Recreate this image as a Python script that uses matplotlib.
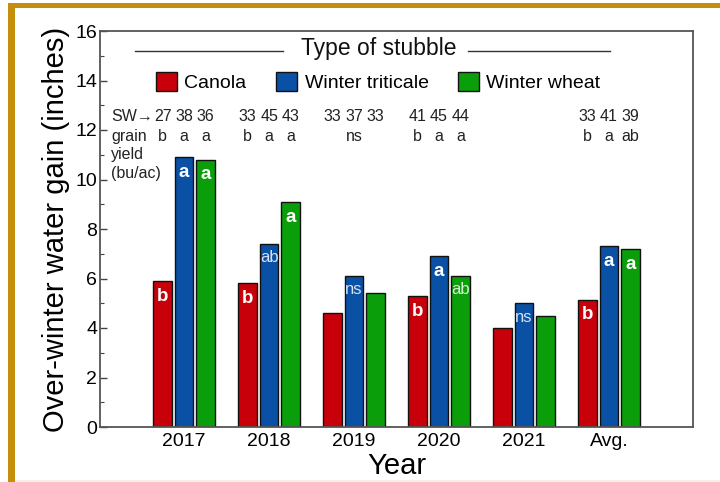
import matplotlib
matplotlib.use("Agg")
import matplotlib.pyplot as plt
from matplotlib.patches import Rectangle
from matplotlib.lines import Line2D
import numpy as np

plt.rcParams['font.family'] = ['Liberation Sans', 'DejaVu Sans']

years = ['2017', '2018', '2019', '2020', '2021', 'Avg.']
series_names = ['Canola', 'Winter triticale', 'Winter wheat']
canola = [5.9, 5.8, 4.6, 5.3, 4.0, 5.15]
triticale = [10.9, 7.4, 6.1, 6.9, 5.0, 7.3]
wheat = [10.8, 9.1, 5.4, 6.1, 4.5, 7.2]

# significance letters for water gain (inside bars)
sig_canola = ['b', 'b', '', 'b', '', 'b']
sig_triticale = ['a', 'ab', 'ns', 'a', 'ns', 'a']
sig_wheat = ['a', 'a', '', 'ab', '', 'a']

# spring wheat grain yield (bu/ac) and letters
sw_canola = ['27', '33', '33', '41', '', '33']
sw_triticale = ['38', '45', '37', '45', '', '41']
sw_wheat = ['36', '43', '33', '44', '', '39']
ysig_canola = ['b', 'b', '', 'b', '', 'b']
ysig_triticale = ['a', 'a', 'ns', 'a', '', 'a']
ysig_wheat = ['a', 'a', '', 'a', '', 'ab']

colors = ['#c8000a', '#0a50a5', '#0a9e0a']

W, H = 720, 482
fig = plt.figure(figsize=(W / 100, H / 100), dpi=100)
fig.patch.set_facecolor('white')

# golden frame
gold = '#c58f0e'
fig.patches.append(Rectangle((8 / W, 0), 7 / W, (H - 3) / H, transform=fig.transFigure,
                             facecolor=gold, edgecolor='none', zorder=0))
fig.patches.append(Rectangle((8 / W, (H - 7.5) / H), 1 - 8 / W, 4.5 / H, transform=fig.transFigure,
                             facecolor=gold, edgecolor='none', zorder=0))
fig.patches.append(Rectangle((15 / W, 0), 1, 2 / H, transform=fig.transFigure,
                             facecolor='#f4f1e4', edgecolor='none', zorder=0))

ax_l, ax_r, ax_t, ax_b = 100, 693, 31, 427
ax = fig.add_axes([ax_l / W, (H - ax_b) / H, (ax_r - ax_l) / W, (ax_b - ax_t) / H])

x = np.arange(len(years))
step = 0.253
width = 0.22
data = [canola, triticale, wheat]
sigs = [sig_canola, sig_triticale, sig_wheat]
sws = [sw_canola, sw_triticale, sw_wheat]
ysigs = [ysig_canola, ysig_triticale, ysig_wheat]
tfs = 11.5
for i, (vals, c, name) in enumerate(zip(data, colors, series_names)):
    ax.bar(x + (i - 1) * step, vals, width, color=c, edgecolor='#111111',
           linewidth=1.0, label=name, zorder=2)
    for j, v in enumerate(vals):
        s = sigs[i][j]
        if s:
            bold = s in ('a', 'b')
            tc = 'white' if bold else ('#d6e2f4' if i == 1 else '#d6f0d6')
            ax.annotate(s, (x[j] + (i - 1) * step, v), xytext=(0, -11 if bold else -10),
                        textcoords='offset points', ha='center', va='center',
                        color=tc, fontsize=13.5 if bold else 12,
                        fontweight='bold' if bold else 'normal', zorder=3)
        sw = sws[i][j]
        if sw:
            ax.text(x[j] + (i - 1) * step, 12.54, sw, ha='center', va='center',
                    fontsize=tfs, color='#222222')
        ys = ysigs[i][j]
        if ys:
            ax.text(x[j] + (i - 1) * step, 11.73, ys, ha='center', va='center',
                    fontsize=tfs, color='#222222')

ax.text(-0.86, 12.54, 'SW\u2192', ha='left', va='center', fontsize=tfs, color='#222222')
ax.text(-0.86, 11.73, 'grain', ha='left', va='center', fontsize=tfs, color='#222222')
ax.text(-0.86, 10.99, 'yield', ha='left', va='center', fontsize=tfs, color='#222222')
ax.text(-0.86, 10.26, '(bu/ac)', ha='left', va='center', fontsize=tfs, color='#222222')

ax.set_xlim(-0.99, 5.99)
ax.set_ylim(0, 16)
ax.set_xticks(x)
ax.set_xticklabels(years, fontsize=14)
ax.set_yticks(np.arange(0, 17, 2))
ax.set_yticks(np.arange(0, 17, 1), minor=True)
ax.tick_params(axis='y', which='major', direction='in', length=5, width=1, labelsize=14, pad=2, color='#444444')
ax.tick_params(axis='y', which='minor', direction='in', length=3, width=0.8, color='#444444')
ax.tick_params(axis='x', length=0, pad=4)
for sp in ax.spines.values():
    sp.set_color('#555555')
    sp.set_linewidth(1.3)

ax.set_ylabel('Over-winter water gain (inches)', fontsize=21, labelpad=4)
ax.set_xlabel('Year', fontsize=21, labelpad=2)

# legend title with side lines
ax.text(0.4705, 0.957, 'Type of stubble', transform=ax.transAxes, ha='center', va='center',
        fontsize=16.5, color='#111111')
for x0, x1 in [(135, 283), (468, 610)]:
    ax.add_line(Line2D([(x0 - ax_l) / (ax_r - ax_l), (x1 - ax_l) / (ax_r - ax_l)], [0.950, 0.950],
                       transform=ax.transAxes, color='#333333', linewidth=1.0))

ax.legend(ncol=3, loc='center', bbox_to_anchor=(0.469, 0.871), frameon=False,
          fontsize=14, handlelength=1.08, handleheight=1.08, handletextpad=0.4,
          columnspacing=1.5, borderpad=0, borderaxespad=0)

fig.savefig('out.png', dpi=100)
